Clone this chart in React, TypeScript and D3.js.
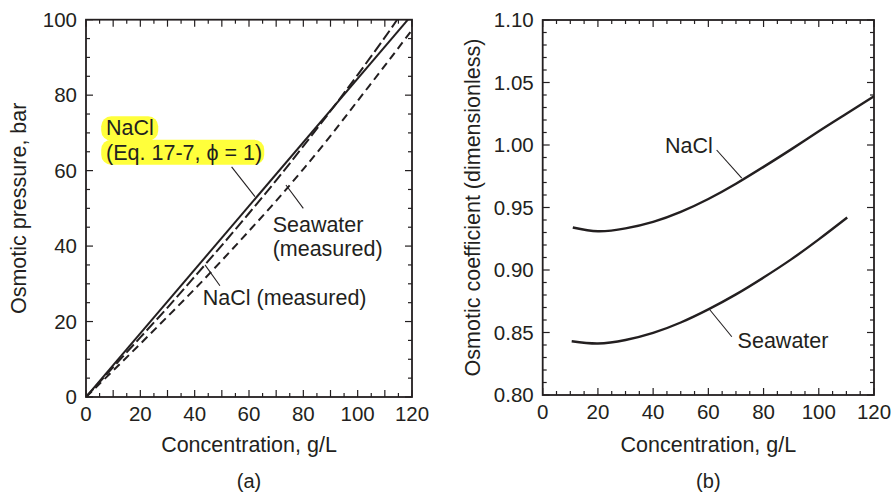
import React from "react";
import * as d3 from "d3";

// Osmotic pressure (a) and osmotic coefficient (b) vs concentration

// panel (a): osmotic pressure, bar
const idealConc = [0, 118.5];
const idealPi = [0, 100];
const naclConc = [0, 10, 20, 30, 40, 50, 60, 70, 80, 90, 100, 110, 114.5];
const naclPi = [0, 7.9, 15.8, 23.7, 31.9, 40.2, 48.7, 57.4, 66.5, 75.8, 85.4, 95.3, 100];
const seaConc = [0, 10, 20, 30, 40, 50, 60, 70, 80, 90, 100, 110, 120];
const seaPi = [0, 7.0, 14.1, 21.3, 28.6, 36.2, 44.0, 52.0, 60.4, 69.2, 78.5, 87.8, 97.3];

// panel (b): osmotic coefficient
const naclPhiConc = [10.9, 20, 30, 40, 50, 60, 70, 80, 90, 100, 110, 120];
const naclPhi = [0.934, 0.931, 0.9333, 0.9385, 0.9465, 0.9568, 0.969, 0.9825, 0.9965, 1.011, 1.025, 1.039];
const seaPhiConc = [10.5, 20, 30, 40, 50, 60, 70, 80, 90, 100, 110.3];
const seaPhi = [0.843, 0.8412, 0.844, 0.8497, 0.858, 0.8685, 0.8805, 0.894, 0.9085, 0.9245, 0.942];

const xTicks = [0, 20, 40, 60, 80, 100, 120];
const piTicks = [0, 20, 40, 60, 80, 100];
const phiTicks = [0.8, 0.85, 0.9, 0.95, 1.0, 1.05, 1.1];

const ink = "#231f20";
const font = "'Liberation Sans', Arial, Helvetica, sans-serif";
const fs = 21.5;

const zip = (a: number[], b: number[]) => a.map((v, i) => [v, b[i]] as [number, number]);

type Props = {
  x: d3.ScaleLinear<number, number>;
  y: d3.ScaleLinear<number, number>;
  xMinor: number[];
  xMajor: number[];
  yMinor: number[];
  yMajor: number[];
  yLabels: number[];
  yFormat: (v: number) => string;
  yTitle: string;
  titleOffset: number;
  tag: string;
  children?: React.ReactNode;
};

const Frame = ({ x, y, xMinor, xMajor, yMinor, yMajor, yLabels, yFormat, yTitle, titleOffset, tag, children }: Props) => {
  const [x0, x1] = x.range();
  const [y0, y1] = y.range();
  const cx = (x0 + x1) / 2;
  const tick = (major: boolean) => (major ? 7 : 4);
  return (
    <g fontFamily={font} fill={ink}>
      {children}
      {xMinor.map((t) => {
        const major = xMajor.some((m) => Math.abs(m - t) < 1e-6);
        return (
          <g key={"x" + t} stroke={ink} strokeWidth={1.2}>
            <line x1={x(t)} x2={x(t)} y1={y0} y2={y0 - tick(major)} />
            <line x1={x(t)} x2={x(t)} y1={y1} y2={y1 + tick(major)} />
          </g>
        );
      })}
      {yMinor.map((t) => {
        const major = yMajor.some((m) => Math.abs(m - t) < 1e-6);
        return (
          <g key={"y" + t} stroke={ink} strokeWidth={1.2}>
            <line x1={x0} x2={x0 + tick(major)} y1={y(t)} y2={y(t)} />
            <line x1={x1} x2={x1 - tick(major)} y1={y(t)} y2={y(t)} />
          </g>
        );
      })}
      <rect x={x0} y={y1} width={x1 - x0} height={y0 - y1} fill="none" stroke={ink} strokeWidth={1.8} />
      {xTicks.map((t) => (
        <text key={"xl" + t} x={x(t)} y={y0 + 23.5} fontSize={20.5} textAnchor="middle">
          {t}
        </text>
      ))}
      {yLabels.map((t) => (
        <text key={"yl" + t} x={x0 - 9} y={y(t) + 7.3} fontSize={20.5} textAnchor="end">
          {yFormat(t)}
        </text>
      ))}
      <text x={cx} y={452} fontSize={fs} textAnchor="middle">
        Concentration, g/L
      </text>
      <text x={cx} y={488} fontSize={20} textAnchor="middle">
        {tag}
      </text>
      <text
        transform={`translate(${x0 - titleOffset},${(y0 + y1) / 2}) rotate(-90)`}
        fontSize={fs}
        textAnchor="middle"
      >
        {yTitle}
      </text>
    </g>
  );
};

const App = () => {
  // panel (a)
  const xa = d3.scaleLinear().domain([0, 120]).range([86, 412]);
  const ya = d3.scaleLinear().domain([0, 100]).range([397, 19.7]);
  const la = d3
    .line<[number, number]>()
    .x((d) => xa(d[0]))
    .y((d) => ya(d[1]))
    .curve(d3.curveNatural);

  // panel (b)
  const xb = d3.scaleLinear().domain([0, 120]).range([542.7, 874]);
  const yb = d3.scaleLinear().domain([0.8, 1.1]).range([395, 20]);
  const lb = d3
    .line<[number, number]>()
    .x((d) => xb(d[0]))
    .y((d) => yb(d[1]))
    .curve(d3.curveNatural);

  const xMinor = d3.range(0, 120.001, 5);
  const piMinor = d3.range(0, 100.001, 5);
  const phiMinor = d3.range(0.8, 1.1001, 0.01);

  const lead = (
    xs: d3.ScaleLinear<number, number>,
    ys: d3.ScaleLinear<number, number>,
    a: [number, number],
    b: [number, number]
  ) => (
    <line x1={xs(a[0])} y1={ys(a[1])} x2={xs(b[0])} y2={ys(b[1])} stroke={ink} strokeWidth={1.1} />
  );

  return (
    <svg width={893} height={495} style={{ position: "absolute", left: 0, top: 0, background: "#fff" }}>
      <defs>
        <clipPath id="clipA">
          <rect x={86} y={19.7} width={326} height={377.3} />
        </clipPath>
      </defs>

      <Frame
        x={xa}
        y={ya}
        xMinor={xMinor}
        xMajor={d3.range(0, 120.001, 10)}
        yMinor={piMinor}
        yMajor={piTicks}
        yLabels={piTicks}
        yFormat={(v) => String(v)}
        yTitle="Osmotic pressure, bar"
        titleOffset={60}
        tag="(a)"
      >
        <g clipPath="url(#clipA)" fill="none" stroke={ink} strokeWidth={2}>
          <path d={la(zip(idealConc, idealPi)) ?? ""} />
          <path d={la(zip(naclConc, naclPi)) ?? ""} strokeDasharray="11 4" />
          <path d={la(zip(seaConc, seaPi)) ?? ""} strokeDasharray="8 5" />
        </g>
        <rect x={xa(5.6)} y={ya(74.4)} width={57} height={24.5} rx={10} fill="#ffff3b" />
        <rect x={xa(5.6)} y={ya(68.2)} width={163} height={25} rx={10} fill="#ffff3b" />
        <text x={xa(7.4)} y={ya(69.4)} fontSize={fs}>
          NaCl
        </text>
        <text x={xa(7.4)} y={ya(62.8)} fontSize={fs}>
          (Eq. 17-7, ϕ = 1)
        </text>
        {lead(xa, ya, [53.6, 61.0], [62.2, 53.1])}
        <text x={xa(68.7)} y={ya(43.7)} fontSize={fs}>
          Seawater
        </text>
        <text x={xa(68.7)} y={ya(37.3)} fontSize={fs}>
          (measured)
        </text>
        {lead(xa, ya, [80.0, 50.0], [73.6, 56.2])}
        <text x={xa(43.0)} y={ya(24.4)} fontSize={fs}>
          NaCl (measured)
        </text>
        {lead(xa, ya, [49.3, 29.5], [43.8, 35.0])}
      </Frame>

      <Frame
        x={xb}
        y={yb}
        xMinor={xMinor}
        xMajor={xTicks}
        yMinor={phiMinor}
        yMajor={phiTicks}
        yLabels={phiTicks}
        yFormat={(v) => v.toFixed(2)}
        yTitle="Osmotic coefficient (dimensionless)"
        titleOffset={63}
        tag="(b)"
      >
        <g fill="none" stroke={ink} strokeWidth={2.4}>
          <path d={lb(zip(naclPhiConc, naclPhi)) ?? ""} />
          <path d={lb(zip(seaPhiConc, seaPhi)) ?? ""} />
        </g>
        <text x={xb(44.3)} y={yb(0.9934)} fontSize={fs}>
          NaCl
        </text>
        {lead(xb, yb, [63.0, 0.996], [72.1, 0.9735])}
        <text x={xb(70.6)} y={yb(0.8374)} fontSize={fs}>
          Seawater
        </text>
        {lead(xb, yb, [60.3, 0.8688], [68.5, 0.8466])}
      </Frame>
    </svg>
  );
};

export default App;
